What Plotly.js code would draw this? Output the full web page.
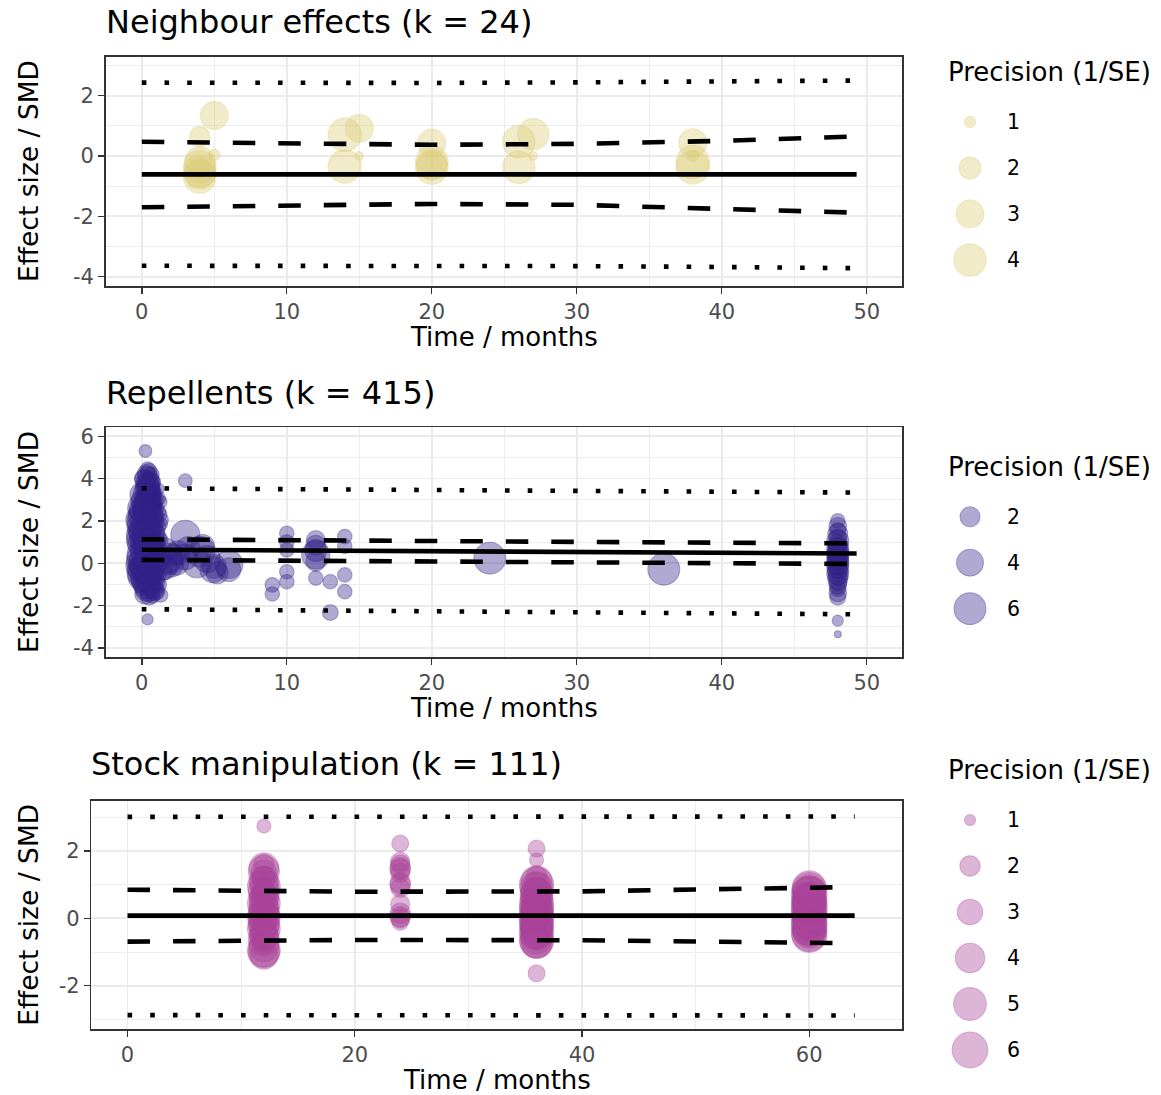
<!DOCTYPE html>
<html>
<head>
<meta charset="utf-8">
<script src="https://cdn.plot.ly/plotly-3.0.1.min.js"></script>
<style>html,body{margin:0;padding:0;background:#fff;}#chart{width:1161px;height:1095px;}</style>
</head>
<body>
<div id="chart"></div>
<script>
// ---------------- DATA ----------------
// Panel 1: Neighbour effects
const neighTitle = "Neighbour effects (k = 24)";
const neighTime = [4,4,4,4,4,4,5,5,14,14,15,15,20,20,20,20,26,26,27,27,38,38,38,38];
const neighSMD  = [0.64,-0.2,-0.35,-0.5,-0.7,-0.6,1.34,0.03,0.7,-0.35,0.92,0.0,0.42,-0.2,-0.4,-0.3,0.47,-0.38,0.72,0.0,0.44,-0.2,-0.38,0.0];
const neighPrec = [1.8,3.5,4.0,4.0,4.0,3.5,3.0,1.0,4.2,4.2,3.0,0.9,3.0,4.0,4.0,3.5,4.0,4.0,3.7,0.9,3.0,4.2,4.2,1.0];
const neighLineTime = [0,10,20,30,40,49.3];
const neighFit  = [-0.61,-0.61,-0.61,-0.61,-0.61,-0.61];
const neighCIlo = [-1.70,-1.63,-1.59,-1.62,-1.76,-1.88];
const neighCIhi = [0.47,0.41,0.37,0.40,0.50,0.65];
const neighPIlo = [-3.64,-3.64,-3.63,-3.65,-3.68,-3.72];
const neighPIhi = [2.43,2.42,2.42,2.44,2.46,2.50];
const neighLegend = [1,2,3,4];
const neighXTicks = [0,10,20,30,40,50];
const neighYTicks = [-4,-2,0,2];

// Panel 2: Repellents
const repTitle = "Repellents (k = 415)";
const repTime = [
 0.25,0.5,0.4,0.6,0.3,0.2,0.7,0.5,0.1,0.9,0.4,0.0,1.2,0.7,0.3,0.0,0.6,1.0,1.3,0.2,
 0.0,0.5,0.9,1.3,0.3,0.0,0.6,1.0,0.2,0.5,0.9,0.0,0.3,0.7,1.1,0.0,0.4,0.8,0.1,0.5,
 1.0,0.0,0.3,0.7,0.1,0.5,0.9,0.2,0.6,0.3,1.0,0.5,0.75,0.4,1.2,1.4,1.5,0.3,0.5,0.2,
 0.6,0.45,0.1,0.8,0.4,0.15,0.45,0.2,0.6,0.35,
 0.1,0.4,0.7,0.2,0.5,0.8,0.3,0.6,1.1,0.0,0.5,0.8,1.3,0.2,0.6,1.1,0.4,0.0,0.7,1.4,
 0.2,0.6,1.1,0.0,0.4,0.8,0.1,1.3,0.5,0.0,0.3,0.7,1.0,0.2,0.6,0.0,0.4,0.9,1.3,0.2,
 0.7,0.0,0.45,0.9,0.2,0.6,1.1,0.3,0.8,0.5,1.3,0.2,0.9,
 0.0,0.0,0.0,0.1,0.0,
 1.6,1.9,2.4,2.5,
 1.8,2.0,1.6,2.2,3.0,3.0,3.0,3.2,4.0,3.8,4.2,4.5,4.9,5.0,5.2,6.0,6.0,
 9,9,10,10,10,10,10,12,12,12,12,12,12,13,13,14,14,14,14,
 24,36,
 48,48,48,48,48,48,48,48,48,48,48,48,48,48,48,48,48,48,48,48,48,48,48,48,48,48,48,48,48,48,48];
const repSMD = [
 5.3,4.35,4.1,3.95,3.8,3.6,3.6,3.45,3.3,3.3,3.1,2.95,3.05,2.85,2.7,2.5,2.5,2.6,2.3,2.3,
 2.0,2.1,2.0,1.85,1.8,1.55,1.6,1.45,1.3,1.15,1.0,0.9,0.75,0.6,0.55,0.4,0.3,0.2,0.0,-0.1,
 -0.05,-0.25,-0.4,-0.45,-0.65,-0.75,-0.85,-0.95,-1.1,-1.25,-1.3,-1.4,-1.55,-2.65,1.2,0.2,-0.4,4.25,3.7,3.1,
 3.2,2.9,2.7,2.3,1.95,1.0,0.5,-0.1,-0.3,-0.6,
 4.0,4.45,4.2,3.95,3.75,3.85,3.55,3.4,3.5,3.25,3.0,3.0,2.9,2.6,2.75,2.45,2.4,2.25,2.2,2.05,
 1.95,1.8,1.75,1.7,1.55,1.4,1.35,1.1,1.0,1.1,0.95,0.85,0.75,0.55,0.45,0.15,0.05,0.05,0.3,-0.2,
 -0.15,-0.45,-0.5,-0.55,-0.8,-0.95,-1.0,-1.1,-1.2,-1.55,-1.5,-1.45,-1.35,
 2.05,1.3,-0.1,-0.6,2.6,
 0.6,0.1,0.0,0.5,
 0.25,-0.05,-0.2,0.4,1.35,3.9,0.3,0.7,0.55,0.0,0.8,0.2,-0.3,-0.15,-0.45,-0.05,-0.3,
 -1.02,-1.45,1.42,1.0,0.63,-0.4,-0.87,1.1,0.85,0.39,0.6,0.1,-0.7,-0.87,-2.33,1.26,0.8,-0.55,-1.34,
 0.24,-0.28,
 2.0,1.75,1.55,1.4,1.2,1.05,0.9,0.8,0.7,0.6,0.5,0.42,0.35,0.25,0.15,0.1,0.0,-0.1,-0.2,-0.3,-0.4,-0.5,-0.6,-0.75,-0.9,-1.05,-1.2,-1.4,-1.6,-2.71,-3.35];
const repPrec = [
 0.8,1.2,2.0,1.5,2.0,1.5,1.2,2.5,2.0,1.0,2.5,2.5,0.8,2.0,3.0,3.5,2.5,1.0,0.8,3.0,
 5.0,3.0,1.5,0.9,3.5,4.0,2.5,1.5,3.5,3.0,2.0,4.5,3.5,3.0,1.5,5.0,4.0,3.0,5.0,4.0,
 2.5,4.5,3.5,3.0,3.5,3.0,2.0,3.0,2.0,2.5,1.5,1.5,1.0,0.65,1.0,2.0,1.5,1.5,2.0,2.0,
 2.0,2.5,2.5,2.0,3.0,4.0,4.0,4.5,3.5,3.0,
 1.5,1.0,1.0,2.0,2.5,1.0,2.5,2.0,0.8,3.0,3.0,2.0,0.8,3.5,2.5,1.2,3.5,4.0,2.5,0.8,
 4.0,3.0,1.2,5.0,3.5,2.5,4.5,1.0,3.5,5.5,4.0,3.0,2.0,4.5,3.5,5.5,4.5,2.5,1.5,5.0,
 3.5,5.0,4.0,2.5,4.0,3.0,1.5,3.0,2.0,1.5,1.0,2.0,1.5,
 6.0,5.5,6.0,5.5,4.5,
 3.5,4.0,3.0,3.0,
 5.0,3.5,3.0,2.5,4.8,0.9,3.5,3.0,5.5,4.8,3.0,4.0,3.7,3.0,2.5,4.5,3.0,
 1.0,1.0,1.0,1.0,1.0,1.0,1.0,1.7,2.0,4.5,2.5,2.0,1.0,1.0,1.2,1.0,1.0,1.0,1.0,
 6.0,6.0,
 1.0,1.5,1.2,2.0,1.5,2.5,2.0,1.5,2.5,2.0,2.5,1.8,2.5,2.0,2.5,1.5,2.5,2.0,2.5,1.5,2.0,2.5,1.8,2.0,1.5,1.5,1.2,1.5,1.2,0.65,0.5];
const repLineTime = [0,10,20,30,40,49.3];
const repFit  = [0.64,0.60,0.56,0.53,0.49,0.46];
const repCIhi = [1.13,1.08,1.05,1.01,0.97,0.94];
const repCIlo = [0.16,0.12,0.08,0.05,0.01,-0.03];
const repPIhi = [3.54,3.50,3.46,3.42,3.38,3.34];
const repPIlo = [-2.17,-2.22,-2.27,-2.31,-2.36,-2.41];
const repLegend = [2,4,6];
const repXTicks = [0,10,20,30,40,50];
const repYTicks = [-4,-2,0,2,4,6];

// Panel 3: Stock manipulation
const stockTitle = "Stock manipulation (k = 111)";
const stockTime = [
 12,12,12,12,12,12,12,12,12,12,12,12,12,12,12,12,12,12,12,12,12,12,
 12,12,12,12,12,12,12,12,12,12,12,12,12,
 24,24,24,24,24,24,24,24,24,24,24,24,24,24,
 36,36,36,36,36,36,36,36,36,36,36,36,36,36,36,36,36,36,36,36,36,36,36,36,
 36,36,36,36,36,36,36,36,36,36,36,36,36,36,36,
 60,60,60,60,60,60,60,60,60,60,60,60,60,60,60,60,60,60,
 60,60,60,60,60,60,60,60,60,60,60];
const stockSMD = [
 2.74,1.5,1.35,1.2,1.0,0.8,0.65,0.5,0.35,0.2,0.1,0.0,-0.1,-0.25,-0.4,-0.55,-0.7,-0.85,-1.0,-1.1,1.6,0.9,
 1.4,0.95,0.75,0.45,0.25,0.05,-0.15,-0.3,-0.5,-0.65,-0.95,1.1,0.6,
 2.22,1.68,1.5,1.35,1.0,0.9,0.42,0.15,0.0,-0.1,1.45,1.05,0.05,1.6,
 2.07,1.73,1.1,1.0,0.85,0.7,0.6,0.5,0.4,0.3,0.2,0.15,0.05,0.0,-0.1,-0.2,-0.3,-0.4,-0.5,-0.6,-0.7,-0.55,1.25,-1.63,
 0.9,0.75,0.55,0.35,0.25,0.1,-0.05,-0.15,-0.25,-0.35,-0.45,-0.65,-0.75,0.95,0.45,
 0.9,0.8,0.7,0.6,0.5,0.4,0.3,0.2,0.1,0.0,-0.1,-0.2,-0.3,-0.4,-0.5,0.65,0.25,-0.15,
 0.85,0.75,0.55,0.45,0.35,0.15,0.05,-0.05,-0.25,-0.35,-0.45];
const stockPrec = [
 1.2,4.0,3.0,2.5,3.5,4.5,3.0,3.5,4.0,3.0,4.5,3.5,3.0,4.0,3.0,3.5,2.5,4.0,4.5,3.5,2.0,2.0,
 4.5,5.0,3.0,5.0,4.0,5.0,4.5,5.0,4.0,4.5,5.0,4.0,4.0,
 1.5,1.8,2.0,1.8,2.0,1.8,1.8,2.0,1.8,1.5,2.0,2.0,2.0,1.8,
 1.5,1.2,4.5,5.5,3.0,5.0,2.5,4.0,5.5,3.0,5.0,2.5,4.0,5.5,3.0,5.0,4.0,5.5,3.0,4.5,5.0,2.0,2.0,1.5,
 5.0,4.5,5.0,4.5,5.5,5.0,4.5,5.5,5.0,4.5,5.0,5.5,4.0,3.5,3.0,
 5.5,5.0,6.0,4.5,5.5,5.0,6.0,4.5,5.5,5.0,6.0,4.5,5.5,5.0,5.5,4.0,4.0,4.0,
 5.5,5.0,5.5,6.0,5.0,6.0,5.0,5.5,6.0,5.0,6.0];
const stockLineTime = [0,20,40,64];
const stockFit  = [0.08,0.08,0.08,0.08];
const stockCIhi = [0.85,0.79,0.80,0.93];
const stockCIlo = [-0.69,-0.64,-0.65,-0.74];
const stockPIhi = [3.01,3.01,3.01,3.02];
const stockPIlo = [-2.87,-2.87,-2.87,-2.88];
const stockLegend = [1,2,3,4,5,6];
const stockXTicks = [0,20,40,60];
const stockYTicks = [-2,0,2];

// ---------------- STYLE / LAYOUT ----------------
const W = 1161, H = 1095;
const FONT = "DejaVu Sans";
const fx = px => px / W;
const fy = py => 1 - py / H;
const ALPHA = 0.55;

const panels = [
  {title: neighTitle, t: neighTime, y: neighSMD, p: neighPrec, lt: neighLineTime,
   fit: neighFit, cilo: neighCIlo, cihi: neighCIhi, pilo: neighPIlo, pihi: neighPIhi,
   legend: neighLegend, xt: neighXTicks, yt: neighYTicks, rgb: "221,204,119",
   size: p => 7 + 15 * Math.sqrt(Math.max(p - 0.87, 0)),
   box: {l: 105.7, r: 902, t: 56.7, b: 286},
   xr: [-2.49, 52.43], xm: 5, yr: [-4.31, 3.29], ym: 1,
   titleY: 22, legTitleY: 72},
  {title: repTitle, t: repTime, y: repSMD, p: repPrec, lt: repLineTime,
   fit: repFit, cilo: repCIlo, cihi: repCIhi, pilo: repPIlo, pihi: repPIhi,
   legend: repLegend, xt: repXTicks, yt: repYTicks, rgb: "51,34,136",
   size: p => 8 + 10.6 * Math.sqrt(Math.max(p - 0.5, 0)),
   box: {l: 105.7, r: 902, t: 427.3, b: 657.3},
   xr: [-2.49, 52.43], xm: 5, yr: [-4.44, 6.42], ym: 1,
   titleY: 393, legTitleY: 466.7},
  {title: stockTitle, t: stockTime, y: stockSMD, p: stockPrec, lt: stockLineTime,
   fit: stockFit, cilo: stockCIlo, cihi: stockCIhi, pilo: stockPIlo, pihi: stockPIhi,
   legend: stockLegend, xt: stockXTicks, yt: stockYTicks, rgb: "170,68,153",
   size: p => 8 + 12.7 * Math.sqrt(Math.max(p - 0.9, 0)),
   box: {l: 91.4, r: 902.4, t: 801, b: 1029.3},
   xr: [-3.18, 68.2], xm: 10, yr: [-3.29, 3.48], ym: 1,
   titleY: 764, legTitleY: 770}
];

const traces = [];
const annotations = [];
const layout = {
  width: W, height: H,
  margin: {l: 0, r: 0, t: 0, b: 0},
  paper_bgcolor: "#ffffff",
  plot_bgcolor: "rgba(0,0,0,0)",
  showlegend: false,
  font: {family: FONT, color: "#000"},
  annotations: annotations
};

const LINE_W = 4.6;
const legX = 970, legLabelX = 1005, legStep = 46, legFirst = 50;

panels.forEach((P, i) => {
  const n = i + 1;
  const xa = "x" + n, ya = "y" + n;
  const xkey = n === 1 ? "xaxis" : "xaxis" + n;
  const ykey = n === 1 ? "yaxis" : "yaxis" + n;
  const common = {
    showline: true, mirror: true, linecolor: "#333333", linewidth: 1.6,
    ticks: "outside", ticklen: 6, tickwidth: 1.4, tickcolor: "#333333",
    tickfont: {family: FONT, size: 21, color: "#4D4D4D"},
    showgrid: true, gridcolor: "#EBEBEB", gridwidth: 1.8, zeroline: false,
    fixedrange: true, tickmode: "array"
  };
  layout[xkey] = Object.assign({}, common, {
    domain: [fx(P.box.l), fx(P.box.r)], range: P.xr, anchor: ya,
    tickvals: P.xt, ticktext: P.xt.map(v => String(v)),
    minor: {tickmode: "linear", dtick: P.xm, tick0: 0, showgrid: true, gridcolor: "#EBEBEB", gridwidth: 0.9, ticks: ""}
  });
  layout[ykey] = Object.assign({}, common, {
    domain: [fy(P.box.b), fy(P.box.t)], range: P.yr, anchor: xa,
    tickvals: P.yt, ticktext: P.yt.map(v => String(v)),
    minor: {tickmode: "linear", dtick: P.ym, tick0: 0, showgrid: true, gridcolor: "#EBEBEB", gridwidth: 0.9, ticks: ""}
  });

  const fill = "rgba(" + P.rgb + "," + ALPHA + ")";
  // points
  traces.push({
    type: "scatter", mode: "markers", x: P.t, y: P.y, xaxis: xa, yaxis: ya,
    marker: {size: P.p.map(v => P.size(v) - 1), color: fill, line: {color: fill, width: 1.1}},
    hoverinfo: "skip"
  });
  // lines
  const ln = (yy, dash) => ({
    type: "scatter", mode: "lines", x: P.lt, y: yy, xaxis: xa, yaxis: ya,
    line: {color: "#000", width: LINE_W, dash: dash}, hoverinfo: "skip"
  });
  traces.push(ln(P.pilo, "4.6px,18.1px"));
  traces.push(ln(P.pihi, "4.6px,18.1px"));
  traces.push(ln(P.cilo, "22.5px,23px"));
  traces.push(ln(P.cihi, "22.5px,23px"));
  traces.push(ln(P.fit, "solid"));

  // titles
  annotations.push({text: P.title, xref: "paper", yref: "paper", x: fx(P.box.l - 2), y: fy(P.titleY),
    xanchor: "left", yanchor: "middle", showarrow: false, font: {family: FONT, size: 32, color: "#000"}});
  annotations.push({text: "Time / months", xref: "paper", yref: "paper", x: fx((P.box.l + P.box.r) / 2), y: fy(P.box.b + 51),
    xanchor: "center", yanchor: "middle", showarrow: false, font: {family: FONT, size: 26, color: "#000"}});
  annotations.push({text: "Effect size / SMD", xref: "paper", yref: "paper", x: fx(28.6), y: fy((P.box.t + P.box.b) / 2),
    xanchor: "center", yanchor: "middle", textangle: -90, showarrow: false, font: {family: FONT, size: 26.5, color: "#000"}});
  // legend title
  annotations.push({text: "Precision (1/SE)", xref: "paper", yref: "paper", x: fx(946), y: fy(P.legTitleY),
    xanchor: "left", yanchor: "middle", showarrow: false, font: {family: FONT, size: 26, color: "#000"}});
  // legend keys
  const ly = P.legend.map((v, k) => P.legTitleY + legFirst + k * legStep);
  traces.push({
    type: "scatter", mode: "markers", x: P.legend.map(() => legX), y: ly, xaxis: "x4", yaxis: "y4",
    marker: {size: P.legend.map(v => P.size(v) - 1), color: fill, line: {color: fill, width: 1.1}},
    hoverinfo: "skip", cliponaxis: false
  });
  P.legend.forEach((v, k) => {
    annotations.push({text: String(v), xref: "paper", yref: "paper", x: fx(legLabelX), y: fy(ly[k]),
      xanchor: "left", yanchor: "middle", showarrow: false, font: {family: FONT, size: 20.5, color: "#000"}});
  });
});

layout.xaxis4 = {domain: [0, 1], range: [0, W], visible: false, fixedrange: true, anchor: "y4"};
layout.yaxis4 = {domain: [0, 1], range: [H, 0], visible: false, fixedrange: true, anchor: "x4"};

Plotly.newPlot("chart", traces, layout, {staticPlot: true, displayModeBar: false});
</script>
</body>
</html>
